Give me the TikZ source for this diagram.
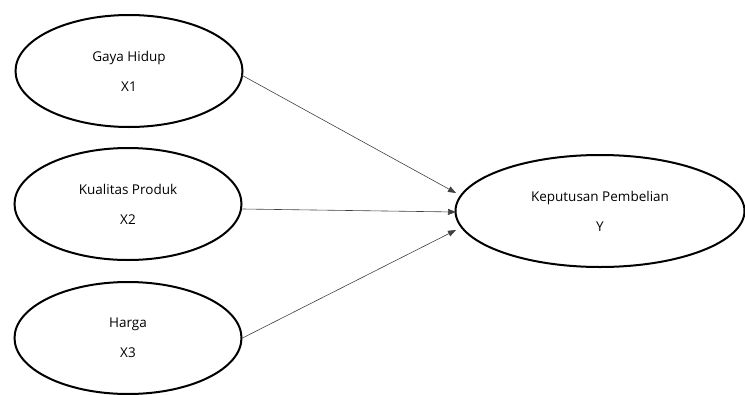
\documentclass[tikz,border=0pt]{standalone}
\usepackage{fontspec}
\setmainfont{Open Sans}
\usetikzlibrary{shapes.geometric,arrows.meta}
\begin{document}
\begin{tikzpicture}[x=1pt,y=-1pt,
  latent/.style={draw=black,line width=2pt,ellipse,minimum width=#1,minimum height=112pt,inner sep=0pt,align=center,font=\fontsize{13.5}{30}\selectfont},
  link/.style={draw=black!75,line width=0.6pt,-{Triangle[length=8pt,width=6pt]}}]
\useasboundingbox (0,0) rectangle (745,394);
\node[latent=227pt] (x1) at (129,71) {Gaya Hidup\\X1};
\node[latent=227pt] (x2) at (128,204) {Kualitas Produk\\X2};
\node[latent=227pt] (x3) at (128,338) {Harga\\X3};
\node[latent=289pt] (y) at (600,211) {Keputusan Pembelian\\Y};
\coordinate (t1) at (456,193);
\coordinate (t2) at (456,212);
\coordinate (t3) at (456,230);
\draw[link] (x1.east |- 0,75) ++(-2,0) -- (t1);
\draw[link] (x2.east) ++(0,5) -- (t2);
\draw[link] (x3.east) -- (t3);
\end{tikzpicture}
\end{document}
